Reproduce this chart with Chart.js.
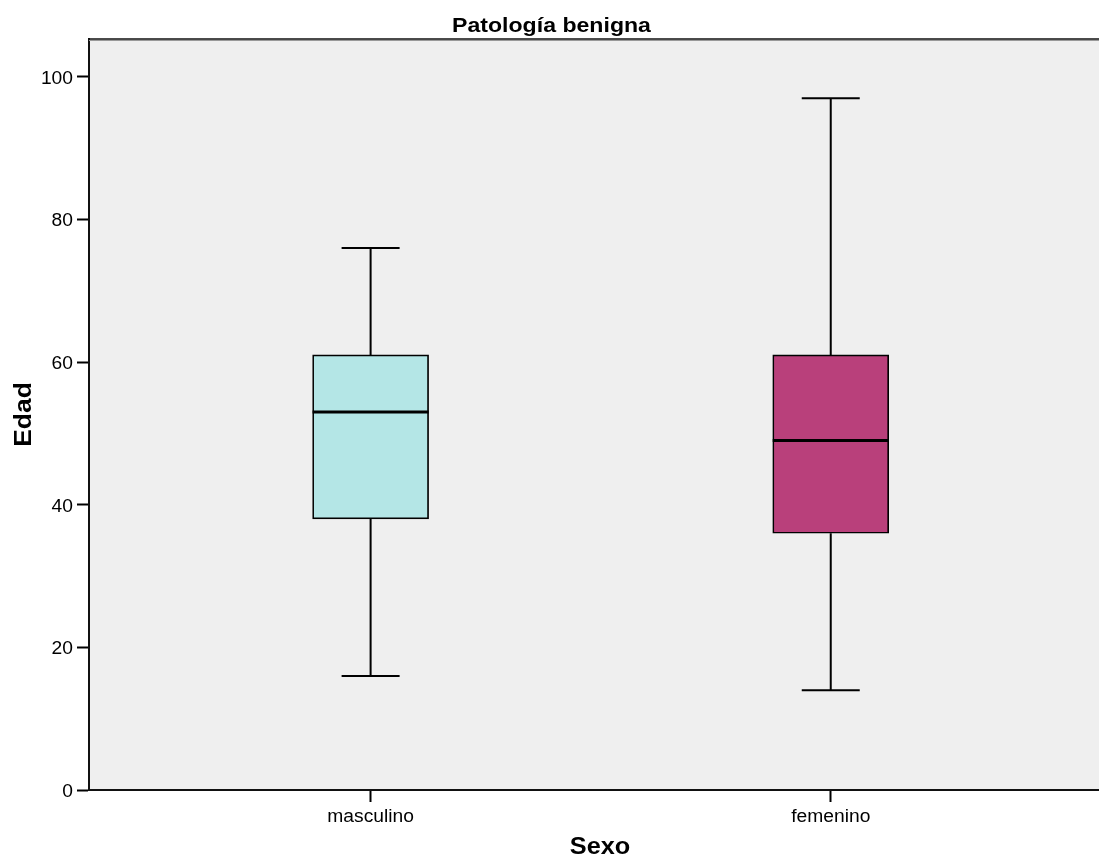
<!DOCTYPE html>
<html>
<head>
<meta charset="utf-8">
<title>Patología benigna</title>
<script src="https://cdn.jsdelivr.net/npm/chart.js@4.4.1/dist/chart.umd.min.js"></script>
<style>
  html, body { margin: 0; padding: 0; background: #ffffff; }
  canvas { display: block; }
</style>
</head>
<body>
<canvas id="chart" width="1099" height="861"></canvas>
<script>
// Edad por sexo: cinco números de cada caja
const categories = ['masculino', 'femenino'];
const whiskerLow = [16, 14];
const quartile1 = [38, 36];
const medians = [53, 49];
const quartile3 = [61, 61];
const whiskerHigh = [76, 97];
const yTickValues = [0, 20, 40, 60, 80, 100];
const boxColors = ['#b4e6e6', '#b9407b'];
const chartTitle = 'Patología benigna';
const xAxisTitle = 'Sexo';
const yAxisTitle = 'Edad';

const FONT = '"Liberation Sans", Arial, Helvetica, sans-serif';
const TEXT_STRETCH = 1.1;   // slightly wide lettering, as in SPSS output
const INK = '#000000';

function drawText(ctx, text, x, y, font, align, rotation) {
  ctx.save();
  ctx.font = font;
  ctx.fillStyle = INK;
  ctx.textAlign = align || 'center';
  ctx.textBaseline = 'alphabetic';
  ctx.translate(x, y);
  if (rotation) {
    ctx.rotate(rotation);
  }
  ctx.scale(TEXT_STRETCH, 1);
  ctx.fillText(text, 0, 0);
  ctx.restore();
}

// Grey plotting panel behind everything
const panelBackground = {
  id: 'panelBackground',
  beforeDraw(chart) {
    const { ctx, chartArea: a } = chart;
    ctx.save();
    ctx.fillStyle = '#efefef';
    ctx.fillRect(a.left, a.top, a.right - a.left, a.bottom - a.top);
    ctx.restore();
  }
};

// Whiskers, caps and median lines on top of the floating bars
const boxParts = {
  id: 'boxParts',
  afterDatasetsDraw(chart) {
    const { ctx } = chart;
    const xs = chart.scales.x, ys = chart.scales.y;
    const meta = chart.getDatasetMeta(0);
    ctx.save();
    ctx.strokeStyle = INK;
    ctx.lineCap = 'butt';
    categories.forEach((c, i) => {
      const cx = xs.getPixelForValue(i);
      const half = meta.data[i].width / 2;
      const capHalf = half / 2;
      const yLo = ys.getPixelForValue(whiskerLow[i]);
      const yQ1 = ys.getPixelForValue(quartile1[i]);
      const yMed = ys.getPixelForValue(medians[i]);
      const yQ3 = ys.getPixelForValue(quartile3[i]);
      const yHi = ys.getPixelForValue(whiskerHigh[i]);
      ctx.lineWidth = 2;
      ctx.beginPath();
      ctx.moveTo(cx, yQ3); ctx.lineTo(cx, yHi);
      ctx.moveTo(cx, yQ1); ctx.lineTo(cx, yLo);
      ctx.moveTo(cx - capHalf, yHi); ctx.lineTo(cx + capHalf, yHi);
      ctx.moveTo(cx - capHalf, yLo); ctx.lineTo(cx + capHalf, yLo);
      ctx.stroke();
      ctx.lineWidth = 3;
      ctx.beginPath();
      ctx.moveTo(cx - half, yMed); ctx.lineTo(cx + half, yMed);
      ctx.stroke();
    });
    ctx.restore();
  }
};

// Frame top edge, tick labels and titles
const textLayer = {
  id: 'textLayer',
  afterDraw(chart) {
    const { ctx, chartArea: a } = chart;
    const xs = chart.scales.x, ys = chart.scales.y;
    ctx.save();
    ctx.strokeStyle = '#999999';
    ctx.lineWidth = 1;
    ctx.beginPath();
    ctx.moveTo(a.left, a.top + 1.5); ctx.lineTo(a.right, a.top + 1.5);
    ctx.stroke();
    ctx.strokeStyle = '#111111';
    ctx.lineWidth = 1.6;
    ctx.beginPath();
    ctx.moveTo(a.left - 1, a.top); ctx.lineTo(a.right, a.top);
    ctx.stroke();
    ctx.restore();

    const tickFont = '17.5px ' + FONT;
    yTickValues.forEach(v => {
      drawText(ctx, String(v), a.left - 16, ys.getPixelForValue(v) + 7, tickFont, 'right');
    });
    categories.forEach((c, i) => {
      drawText(ctx, c, xs.getPixelForValue(i), a.bottom + 32, tickFont, 'center');
    });

    drawText(ctx, chartTitle, chart.width / 2 + 2, 32, 'bold 21px ' + FONT, 'center');
    drawText(ctx, xAxisTitle, (a.left + a.right) / 2 + 6, a.bottom + 64, 'bold 23px ' + FONT, 'center');
    drawText(ctx, yAxisTitle, 31, (a.top + a.bottom) / 2, 'bold 24px ' + FONT, 'center', -Math.PI / 2);
  }
};

new Chart(document.getElementById('chart'), {
  type: 'bar',
  data: {
    datasets: [{
      data: categories.map((c, i) => ({ x: i, y: [quartile1[i], quartile3[i]] })),
      backgroundColor: boxColors,
      borderColor: INK,
      borderWidth: 1.7,
      borderSkipped: false,
      barThickness: 116
    }]
  },
  options: {
    responsive: false,
    animation: false,
    events: [],
    layout: { padding: { top: 39, left: 0, right: 0, bottom: 0 } },
    plugins: {
      legend: { display: false },
      title: { display: false },
      tooltip: { enabled: false }
    },
    scales: {
      x: {
        type: 'linear',
        min: -0.612,
        max: 1.583,
        offset: false,
        afterBuildTicks(scale) { scale.ticks = categories.map((c, i) => ({ value: i })); },
        afterFit(scale) { scale.height = 71; },
        ticks: { display: false },
        grid: {
          offset: false,
          drawOnChartArea: false,
          drawTicks: true,
          tickLength: 12,
          tickWidth: 2,
          tickColor: INK
        },
        border: { display: true, color: '#111111', width: 2 }
      },
      y: {
        type: 'linear',
        min: 0,
        max: 105.3,
        afterBuildTicks(scale) { scale.ticks = yTickValues.map(v => ({ value: v })); },
        afterFit(scale) { scale.width = 89; },
        ticks: { display: false },
        grid: {
          drawOnChartArea: false,
          drawTicks: true,
          tickLength: 12,
          tickWidth: 2,
          tickColor: INK
        },
        border: { display: true, color: '#111111', width: 2 }
      }
    }
  },
  plugins: [panelBackground, boxParts, textLayer]
});
</script>
</body>
</html>
